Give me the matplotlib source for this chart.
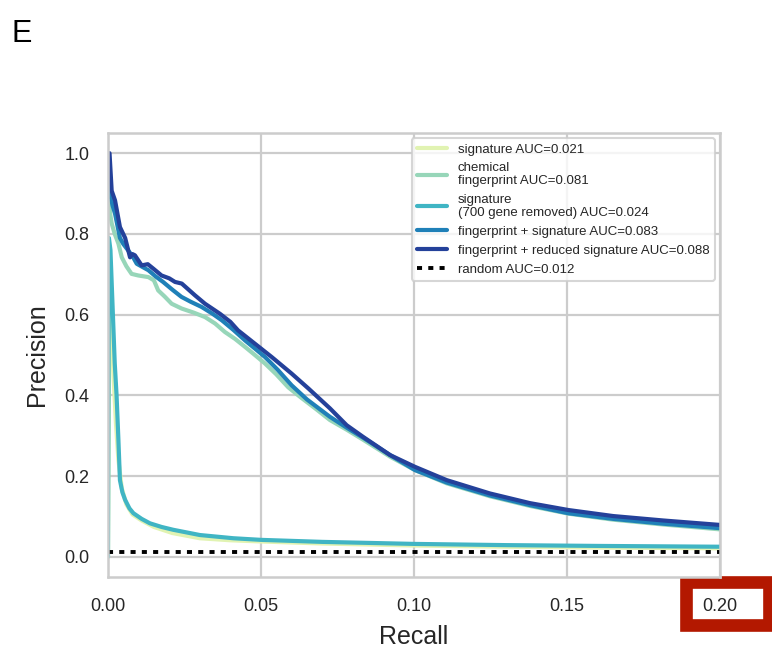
import matplotlib
matplotlib.use("Agg")
import matplotlib.pyplot as plt
from matplotlib.patches import Rectangle
import seaborn as sns

# ---------------- data ----------------
labels = [
    "signature AUC=0.021",
    "chemical\nfingerprint AUC=0.081",
    "signature\n(700 gene removed) AUC=0.024",
    "fingerprint + signature AUC=0.083",
    "fingerprint + reduced signature AUC=0.088",
]
random_label = "random AUC=0.012"

recall_sig = [0.0, 0.0004, 0.0010, 0.0018, 0.0026, 0.0034, 0.0045, 0.0060, 0.0080,
              0.0110, 0.0150, 0.0210, 0.0300, 0.0400, 0.0500, 0.0700, 0.1000,
              0.1300, 0.1600, 0.2000]
prec_sig = [0.0, 0.58, 0.63, 0.45, 0.33, 0.24, 0.17, 0.13, 0.105,
            0.09, 0.074, 0.059, 0.046, 0.041, 0.038, 0.033, 0.028,
            0.025, 0.023, 0.021]

recall_fp = [0.0002, 0.0004, 0.0007, 0.0012, 0.0022, 0.0034, 0.0045, 0.0060, 0.0077, 0.0099,
             0.0132, 0.0150, 0.0164, 0.0185, 0.0208, 0.0241, 0.0280, 0.0317, 0.0350, 0.0382,
             0.0415, 0.0448, 0.0480, 0.0513, 0.0550, 0.0589, 0.0630, 0.0680, 0.0725, 0.0780,
             0.0834, 0.0922, 0.1003, 0.1107, 0.1248, 0.1379, 0.1504, 0.1651, 0.1815, 0.2000]
prec_fp = [0.86, 0.88, 0.85, 0.826, 0.80, 0.776, 0.742, 0.72, 0.701, 0.697,
           0.693, 0.685, 0.66, 0.645, 0.627, 0.615, 0.605, 0.594, 0.578, 0.557,
           0.54, 0.52, 0.50, 0.479, 0.452, 0.420, 0.395, 0.366, 0.339, 0.315,
           0.29, 0.248, 0.215, 0.182, 0.150, 0.126, 0.107, 0.092, 0.080, 0.068]

recall_red = [0.0, 0.0003, 0.0008, 0.0015, 0.0022, 0.0028, 0.0034, 0.0039, 0.0047, 0.0056,
              0.0070, 0.0083, 0.0110, 0.0137, 0.0175, 0.0213, 0.0300, 0.0410, 0.0500,
              0.0700, 0.1000, 0.1300, 0.1600, 0.2000]
prec_red = [0.0, 0.79, 0.76, 0.62, 0.48, 0.40, 0.29, 0.19, 0.16, 0.141,
            0.12, 0.108, 0.094, 0.083, 0.074, 0.067, 0.054, 0.046, 0.042,
            0.037, 0.032, 0.029, 0.027, 0.025]

recall_fs = [0.0003, 0.0007, 0.0015, 0.0023, 0.0031, 0.0039, 0.0050, 0.0066, 0.0080, 0.0094,
             0.0113, 0.0132, 0.0155, 0.0180, 0.0210, 0.0240, 0.0270, 0.0306, 0.0340, 0.0372,
             0.0410, 0.0448, 0.0480, 0.0513, 0.0555, 0.0600, 0.0650, 0.0725, 0.0780, 0.0834,
             0.0922, 0.1003, 0.1107, 0.1248, 0.1379, 0.1504, 0.1651, 0.1815, 0.2000]
prec_fs = [0.93, 0.90, 0.87, 0.85, 0.82, 0.79, 0.775, 0.759, 0.745, 0.726,
           0.718, 0.71, 0.695, 0.681, 0.662, 0.644, 0.632, 0.619, 0.603, 0.586,
           0.562, 0.536, 0.516, 0.495, 0.463, 0.425, 0.39, 0.347, 0.32, 0.295,
           0.252, 0.215, 0.184, 0.152, 0.128, 0.108, 0.094, 0.082, 0.071]

recall_fr = [0.0005, 0.0012, 0.0023, 0.0031, 0.0039, 0.0056, 0.0072, 0.0080, 0.0088,
             0.0110, 0.0130, 0.0148, 0.0175, 0.0200, 0.0219, 0.0241, 0.0284, 0.0317, 0.0366,
             0.0400, 0.0425, 0.0480, 0.0535, 0.0600, 0.0655, 0.0725, 0.0780, 0.0834, 0.0922,
             0.1003, 0.1107, 0.1248, 0.1379, 0.1504, 0.1651, 0.1815, 0.2000]
prec_fr = [1.0, 0.907, 0.883, 0.85, 0.817, 0.79, 0.742, 0.75, 0.747,
           0.722, 0.725, 0.714, 0.697, 0.69, 0.681, 0.677, 0.648, 0.627, 0.602,
           0.582, 0.561, 0.528, 0.495, 0.454, 0.417, 0.368, 0.326, 0.297, 0.252,
           0.223, 0.19, 0.157, 0.133, 0.116, 0.101, 0.09, 0.079]

random_recall = [0.0, 0.2]
random_prec = [0.012, 0.012]

xticks = [0.00, 0.05, 0.10, 0.15, 0.20]
yticks = [0.0, 0.2, 0.4, 0.6, 0.8, 1.0]

# ---------------- style ----------------
sns.set_theme(style="whitegrid")
plt.rcParams["font.family"] = ["Liberation Sans", "DejaVu Sans"]
colors = sns.color_palette("YlGnBu", 5)

fig = plt.figure(figsize=(7.72, 6.48), dpi=100)
ax = fig.add_axes([108 / 772, 1 - 577 / 648, 612 / 772, 444 / 648])

series = [(recall_sig, prec_sig), (recall_fp, prec_fp), (recall_red, prec_red),
          (recall_fs, prec_fs), (recall_fr, prec_fr)]
for (r, p), c, lab in zip(series, colors, labels):
    ax.plot(r, p, color=c, lw=3, label=lab)
ax.plot(random_recall, random_prec, color="black", ls=(0, (1.3, 1.6)), lw=2.8,
        label=random_label)

ax.set_xlim(0, 0.2)
ax.set_ylim(-0.05, 1.05)
ax.set_xticks(xticks)
ax.set_xticklabels([f"{v:.2f}" for v in xticks])
ax.set_yticks(yticks)
ax.set_yticklabels([f"{v:.1f}" for v in yticks])
ax.tick_params(axis="x", length=0, pad=15, labelsize=13, labelcolor="0.15")
ax.tick_params(axis="y", length=0, pad=13.5, labelsize=13, labelcolor="0.15")
ax.grid(True, color="0.8", lw=1.6)
for s in ax.spines.values():
    s.set_color("0.8")
    s.set_linewidth(1.8)

ax.set_xlabel("Recall", fontsize=18, color="0.15", labelpad=7)
ax.set_ylabel("Precision", fontsize=18, color="0.15", labelpad=11)

leg = ax.legend(loc="upper right", fontsize=9.5, labelspacing=0.5, handlelength=2.3,
                borderaxespad=0.4, frameon=True, fancybox=True)
leg.get_frame().set_edgecolor("0.8")
leg.get_frame().set_linewidth(1.5)
for t in leg.get_texts():
    t.set_linespacing(1.12)
    t.set_color("0.15")

fig.text(12 / 772, 1 - 42 / 648, "E", fontsize=22, color="black", ha="left", va="baseline")

# highlight box around the last x tick label (drawn beneath the axes)
fig.add_artist(Rectangle((685.5 / 772, (648 - 624.5) / 648), 83 / 772, 43 / 648,
                         transform=fig.transFigure, fill=False, edgecolor="#b31800",
                         lw=9.1, joinstyle="miter", clip_on=False, zorder=-1))

fig.savefig("out.png", dpi=100)
